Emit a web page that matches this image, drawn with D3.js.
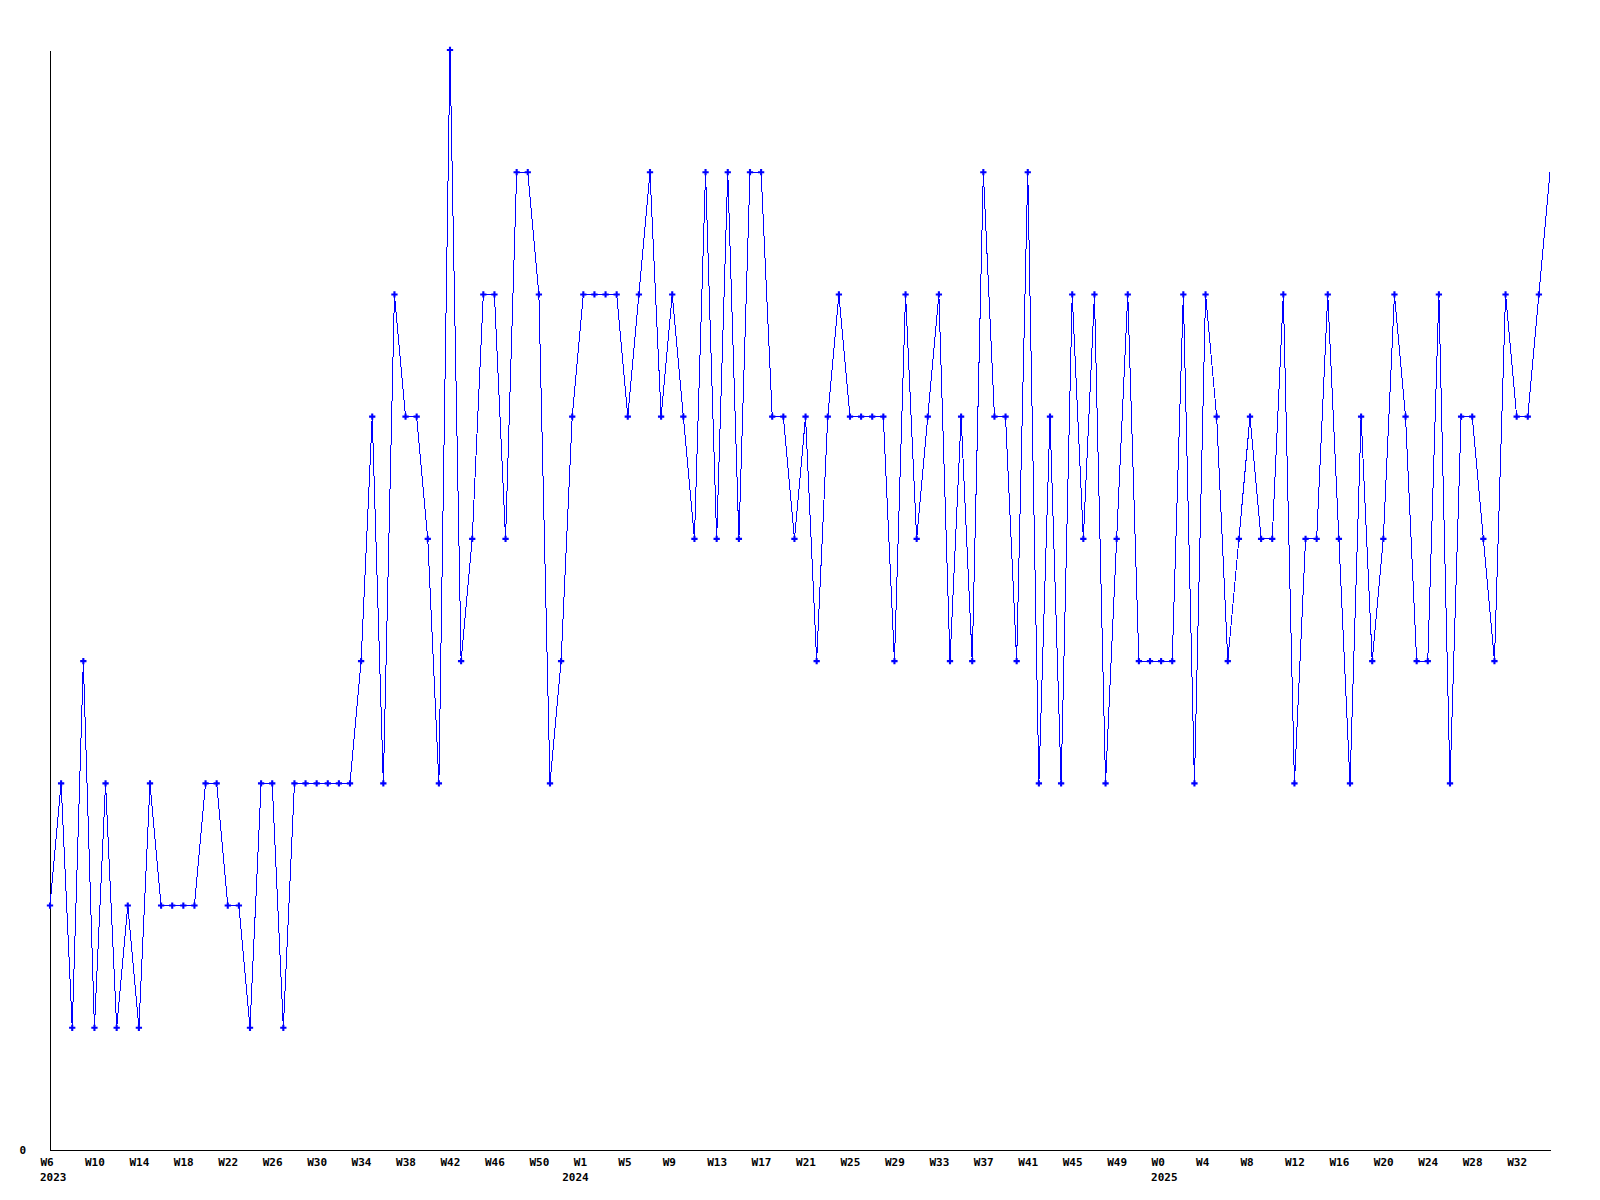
<!DOCTYPE html>
<html>
<head>
<meta charset="utf-8">
<script src="https://cdn.jsdelivr.net/npm/d3@7"></script>
<style>
  html, body { margin: 0; padding: 0; background: #ffffff; }
  svg { display: block; }
  text { font-family: "DejaVu Sans Mono", "Liberation Mono", monospace; font-weight: bold; font-size: 11px; fill: #000; }
</style>
</head>
<body>
<script>
// Weekly values (index 0 = W6 2023)
const values = [
  2,3,1,4,1,3,1,2,1,3,
  2,2,2,2,3,3,2,2,1,3,
  3,1,3,3,3,3,3,3,4,6,
  3,7,6,6,5,3,9,4,5,7,
  7,5,8,8,7,3,4,6,7,7,
  7,7,6,7,8,6,7,6,5,8,
  5,8,5,8,8,6,6,5,6,4,
  6,7,6,6,6,6,4,7,5,6,
  7,4,6,4,8,6,6,4,8,3,
  6,3,7,5,7,3,5,7,4,4,
  4,4,7,3,7,6,4,5,6,5,
  5,7,3,5,5,7,5,3,6,4,
  5,7,6,4,4,7,3,6,6,5,
  4,7,6,6,7,8
];

// Week tick labels and the point index they sit on
const weekTickIndex = [0,4,8,12,16,20,24,28,32,36,40,44,48,52,56,60,64,68,72,76,80,84,88,92,96,100,104,108,112,116,120,124,128,132];
const weekTickLabels = ["W6","W10","W14","W18","W22","W26","W30","W34","W38","W42","W46","W50",
  "W1","W5","W9","W13","W17","W21","W25","W29","W33","W37","W41","W45","W49",
  "W0","W4","W8","W12","W16","W20","W24","W28","W32"];

// Year labels and the point index they sit on
const yearIndex = [0, 47, 100];
const yearLabels = ["2023", "2024", "2025"];

const yTicks = [0];
const yMax = 9;

(function () {
  const W = 1600, H = 1200;
  const mLeft = 50, mRight = 1550, mTop = 50, mBottom = 1150;

  const svg = d3.select("body").append("svg").attr("width", W).attr("height", H);
  svg.append("rect").attr("width", W).attr("height", H).attr("fill", "#fff");

  const x = d3.scaleLinear().domain([0, values.length - 1]).range([mLeft, mRight]);
  const y = d3.scaleLinear().domain([0, yMax]).range([mBottom, mTop]);

  // X axis
  const xAxis = d3.axisBottom(x)
    .tickValues(weekTickIndex)
    .tickFormat((d, i) => weekTickLabels[i])
    .tickSize(0)
    .tickSizeOuter(0)
    .tickPadding(8);
  const gx = svg.append("g").attr("transform", `translate(0,${mBottom})`).call(xAxis);
  gx.select(".domain").attr("stroke", "#000").attr("stroke-width", 1).attr("shape-rendering", "crispEdges");
  gx.selectAll(".tick text")
    .attr("text-anchor", "start")
    .attr("dx", -10)
    .style("font-family", "DejaVu Sans Mono, monospace")
    .style("font-weight", "bold")
    .style("font-size", "11px")
    .attr("fill", "#000");

  // Year labels
  svg.append("g").selectAll("text")
    .data(yearLabels)
    .join("text")
    .attr("x", (d, i) => x(yearIndex[i]) - 10)
    .attr("y", mBottom + 31)
    .attr("text-anchor", "start")
    .text(d => d);

  // Y axis
  const yAxis = d3.axisLeft(y)
    .tickValues(yTicks)
    .tickFormat(d3.format("d"))
    .tickSize(0)
    .tickSizeOuter(0)
    .tickPadding(24);
  const gy = svg.append("g").attr("transform", `translate(${mLeft},0)`).call(yAxis);
  gy.select(".domain").attr("stroke", "#000").attr("stroke-width", 1).attr("shape-rendering", "crispEdges");
  gy.selectAll(".tick text")
    .attr("dy", "0.36em")
    .style("font-family", "DejaVu Sans Mono, monospace")
    .style("font-weight", "bold")
    .style("font-size", "11px")
    .attr("fill", "#000");

  // Line
  const line = d3.line()
    .x((d, i) => x(i))
    .y(d => y(d));
  svg.append("path")
    .datum(values)
    .attr("fill", "none")
    .attr("stroke", "#0000ff")
    .attr("stroke-width", 1)
    .attr("shape-rendering", "crispEdges")
    .attr("d", line);

  // Markers (all but the last point)
  const marker = d3.symbol().type(d3.symbolCross).size(22);
  svg.append("g").selectAll("path")
    .data(values.slice(0, values.length - 1))
    .join("path")
    .attr("transform", (d, i) => `translate(${x(i)},${y(d)})`)
    .attr("d", marker)
    .attr("fill", "#0000ff");
})();
</script>
</body>
</html>
